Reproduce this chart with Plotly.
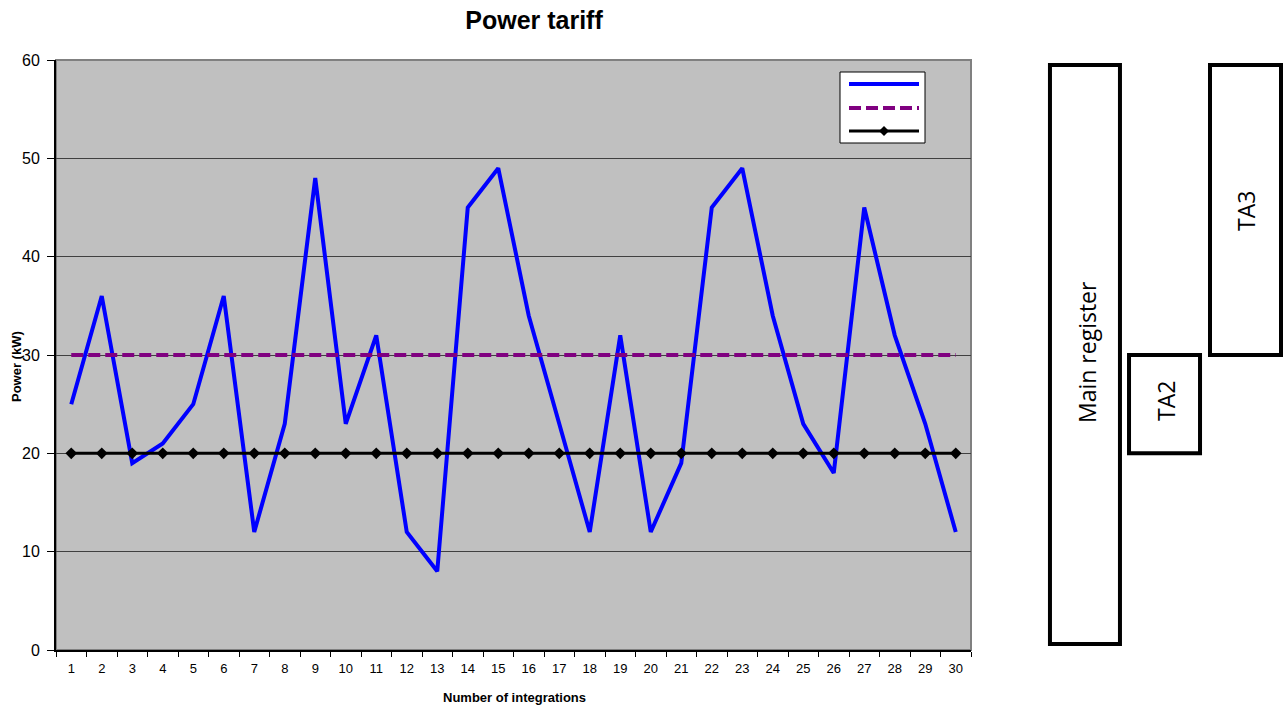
import plotly.graph_objects as go

# Integration periods and measured power (kW)
periods = [str(i) for i in range(1, 31)]
power_kw = [25, 36, 19, 21, 25, 36, 12, 23, 48, 23, 32, 12, 8, 45, 49,
            34, 23, 12, 32, 12, 19, 45, 49, 34, 23, 18, 45, 32, 23, 12]
ta3_threshold = [30] * 30
ta2_threshold = [20] * 30

# Register bands on the right: (label, x0, x1, y0, y1) with x in paper units
registers = [
    ("Main register", 1.0863, 1.1628, 0.6, 59.5),
    ("TA2", 1.1727, 1.2503, 20, 30),
    ("TA3", 1.2612, 1.3388, 30, 59.5),
]


def px_x(p):
    return (p - 56) / 915


def px_y(p):
    return (650 - p) / 590


fig = go.Figure()

fig.add_trace(go.Scatter(x=periods, y=power_kw, mode="lines",
                         line=dict(color="#0000ff", width=4), showlegend=False))
fig.add_trace(go.Scatter(x=periods, y=ta3_threshold, mode="lines",
                         line=dict(color="#800080", width=4, dash="12px,5px"),
                         showlegend=False))
fig.add_trace(go.Scatter(x=periods, y=ta2_threshold, mode="lines+markers",
                         line=dict(color="#000000", width=3),
                         marker=dict(symbol="diamond", size=9, color="#000000"),
                         showlegend=False))

shapes = []
# plot frame (grey top/right edges)
shapes.append(dict(type="rect", xref="paper", yref="paper", x0=0, x1=1, y0=0, y1=1,
                   line=dict(color="#808080", width=2), layer="below"))

# hand-built legend box with three samples and no labels
shapes.append(dict(type="rect", xref="paper", yref="paper",
                   x0=px_x(840), x1=px_x(925), y0=px_y(143), y1=px_y(72),
                   fillcolor="white", line=dict(color="black", width=1)))
lx0, lx1 = px_x(849), px_x(919)
shapes.append(dict(type="line", xref="paper", yref="paper", x0=lx0, x1=lx1,
                   y0=px_y(84), y1=px_y(84), line=dict(color="#0000ff", width=4)))
shapes.append(dict(type="line", xref="paper", yref="paper", x0=lx0, x1=lx1,
                   y0=px_y(108), y1=px_y(108),
                   line=dict(color="#800080", width=4, dash="12px,5px")))
shapes.append(dict(type="line", xref="paper", yref="paper", x0=lx0, x1=lx1,
                   y0=px_y(131), y1=px_y(131), line=dict(color="#000000", width=3)))
cx, cy = 884, 131
shapes.append(dict(type="path", xref="paper", yref="paper",
                   path="M {a},{b} L {c},{d} L {a},{e} L {f},{d} Z".format(
                       a=px_x(cx), b=px_y(cy + 5), c=px_x(cx + 5), d=px_y(cy),
                       e=px_y(cy - 5), f=px_x(cx - 5)),
                   fillcolor="black", line=dict(color="black", width=0)))

for label, x0, x1, y0, y1 in registers:
    shapes.append(dict(type="rect", xref="paper", yref="y", x0=x0, x1=x1, y0=y0, y1=y1,
                       fillcolor="white", line=dict(color="black", width=4)))

annotations = []
for text, cxp, cyp in [("Main register", 1087, 352), ("TA2", 1166, 401), ("TA3", 1246, 211)]:
    annotations.append(dict(text=text, xref="paper", yref="paper",
                            x=px_x(cxp), y=px_y(cyp), xanchor="center", yanchor="middle",
                            showarrow=False, textangle=-90,
                            font=dict(family="Open Sans", size=23, color="black")))

# axis titles
annotations.append(dict(text="<b>Power (kW)</b>", xref="paper", yref="paper",
                        x=px_x(16), y=px_y(367), xanchor="center", yanchor="middle",
                        showarrow=False, textangle=-90,
                        font=dict(family="Arial", size=13, color="black")))
annotations.append(dict(text="<b>Number of integrations</b>", xref="paper", yref="paper",
                        x=px_x(514), y=px_y(697), xanchor="center", yanchor="middle",
                        showarrow=False, font=dict(family="Arial", size=13, color="black")))

fig.update_layout(
    width=1288, height=706,
    margin=dict(l=56, r=317, t=60, b=56),
    paper_bgcolor="white",
    plot_bgcolor="#c0c0c0",
    title=dict(text="<b>Power tariff</b>", x=534 / 1288, xanchor="center",
               y=1 - 20 / 706, yanchor="middle",
               font=dict(family="Arial", size=25, color="black")),
    font=dict(family="Arial", color="black"),
    shapes=shapes,
    annotations=annotations,
    showlegend=False,
)

fig.update_xaxes(type="category", range=[-0.5, 29.5], tickson="boundaries",
                 ticks="outside", ticklen=5, tickcolor="black",
                 ticklabelstandoff=5,
                 showline=True, linecolor="black", linewidth=2,
                 showgrid=False, tickfont=dict(size=13, family="Arial"))
fig.update_yaxes(range=[0, 60], dtick=10, ticks="outside", ticklen=7,
                 tickcolor="black", ticklabelstandoff=4,
                 showline=True, linecolor="black", linewidth=2,
                 showgrid=True, gridcolor="#404040", gridwidth=1, zeroline=False,
                 tickfont=dict(size=16, family="Arial"))

fig.write_html("out.html")
